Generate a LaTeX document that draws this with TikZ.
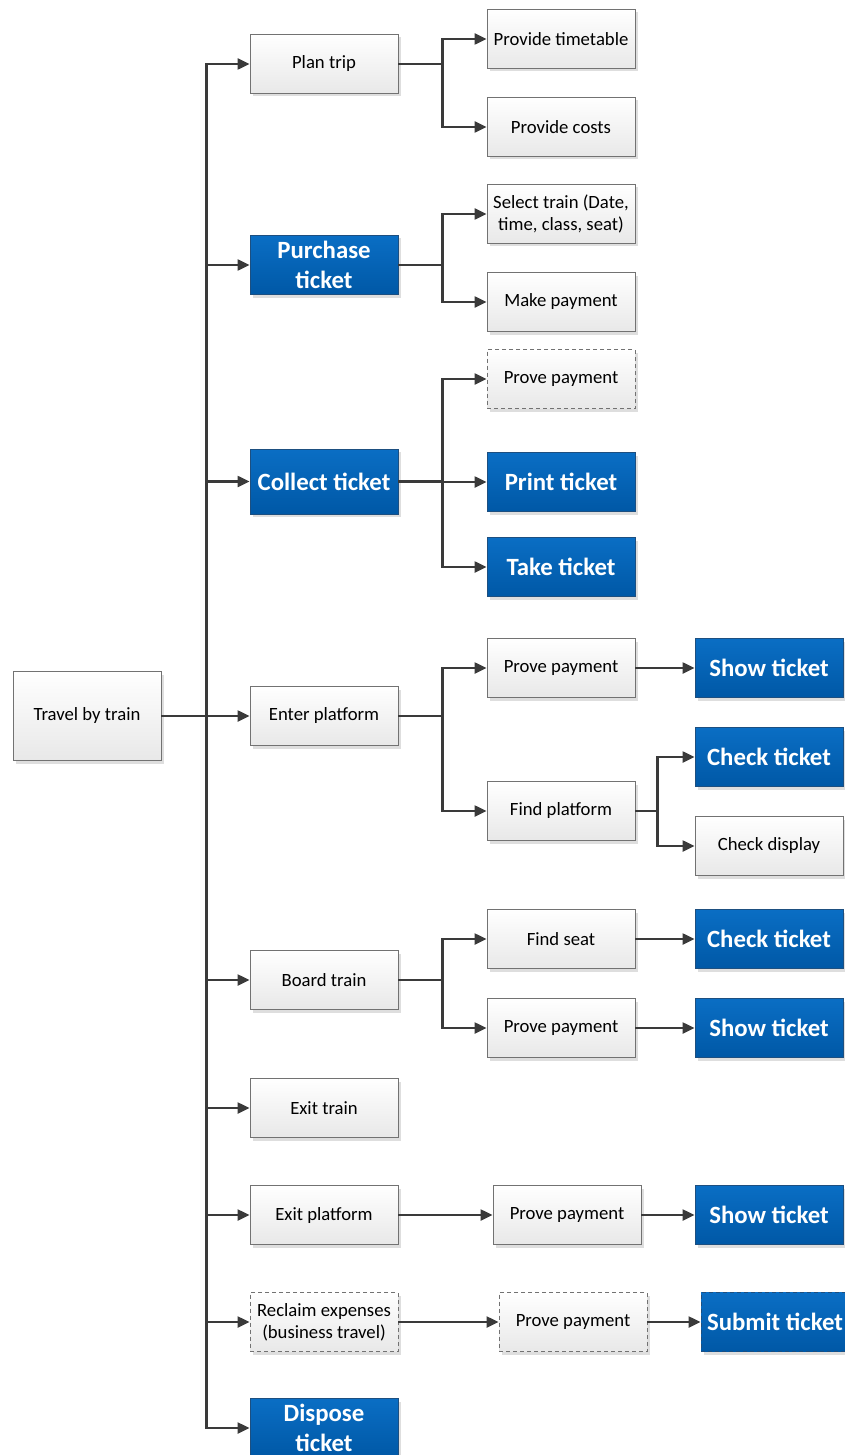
\documentclass[tikz,border=0pt]{standalone}
\usepackage{fontspec}
\setmainfont{Carlito}
\usetikzlibrary{arrows.meta,shadows}

\definecolor{linec}{HTML}{3A3A3A}
\definecolor{edgegray}{HTML}{727272}
\definecolor{boxbot}{HTML}{E8E8E8}
\definecolor{bluetop}{HTML}{0A6EC4}
\definecolor{bluebot}{HTML}{0058A6}
\definecolor{blueedge}{HTML}{1D4F80}

\begin{document}
\begin{tikzpicture}[x=1pt,y=-1pt,
  base/.style={minimum width=148pt, minimum height=59pt, inner sep=2pt,
    align=center, line width=0.9pt,
    drop shadow={shadow xshift=3pt, shadow yshift=-3pt, fill=black!13, opacity=1}},
  plain/.style={base, draw=edgegray, top color=white, bottom color=boxbot,
    text=black, font=\fontsize{18.7}{22}\selectfont},
  bluebox/.style={base, draw=blueedge, top color=bluetop, bottom color=bluebot,
    text=white, font=\bfseries\fontsize{24.8}{30}\selectfont},
  dashedbox/.style={dash pattern=on 4pt off 3pt},
  link/.style={draw=linec, line width=2.3pt, -{Triangle[length=12pt,width=11pt]}}
]
\useasboundingbox (0,0) rectangle (845,1455);

% root
\node[plain, minimum height=89pt] (travel) at (87,716) {Travel by train};

% first level
\node[plain]  (plan)     at (324,64)   {Plan trip};
\node[bluebox] (purchase) at (324,265)  {Purchase\\ticket};
\node[bluebox, minimum height=65pt] (collect) at (324,481.5) {Collect ticket};
\node[plain]  (enter)    at (324,716)  {Enter platform};
\node[plain]  (board)    at (324,980)  {Board train};
\node[plain]  (exittr)   at (324,1108) {Exit train};
\node[plain]  (exitpl)   at (324,1215) {Exit platform};
\node[plain, dashedbox] (reclaim) at (324,1322) {Reclaim expenses\\(business travel)};
\node[bluebox] (dispose)  at (324,1428) {Dispose\\ticket};

% second level
\node[plain]  (timetable) at (561,39)   {Provide timetable};
\node[plain]  (costs)     at (561,127)  {Provide costs};
\node[plain]  (select)    at (561,214)  {Select train (Date,\\time, class, seat)};
\node[plain]  (pay)       at (561,302)  {Make payment};
\node[plain, dashedbox] (proveA) at (561,379) {Prove payment};
\node[bluebox] (print)    at (561,482)  {Print ticket};
\node[bluebox] (take)     at (561,567)  {Take ticket};
\node[plain]  (proveB)    at (561,668)  {Prove payment};
\node[plain]  (findpl)    at (561,811)  {Find platform};
\node[plain]  (seat)      at (561,939)  {Find seat};
\node[plain]  (proveC)    at (561,1028) {Prove payment};
\node[plain]  (proveD)    at (567,1215) {Prove payment};
\node[plain, dashedbox] (proveE) at (573,1322) {Prove payment};

% third level
\node[bluebox] (showA)    at (769,668)  {Show ticket};
\node[bluebox] (checkA)   at (769,757)  {Check ticket};
\node[plain]   (display)  at (769,846)  {Check display};
\node[bluebox] (checkB)   at (769,939)  {Check ticket};
\node[bluebox] (showB)    at (769,1028) {Show ticket};
\node[bluebox] (showC)    at (769,1215) {Show ticket};
\node[bluebox, dashedbox] (submit) at (775,1322) {Submit ticket};

% trunk from the root
\foreach \c in {plan,purchase,collect,enter,board,exittr,exitpl,reclaim,dispose}
  \draw[link] (travel.east) -- ++(45,0) |- (\c.west);

% branches of the first level
\foreach \p/\c in {plan/timetable,plan/costs,purchase/select,purchase/pay,
                   collect/proveA,collect/print,collect/take,
                   enter/proveB,enter/findpl,board/seat,board/proveC}
  \draw[link] (\p.east) -- ++(44,0) |- (\c.west);

\foreach \p/\c in {findpl/checkA,findpl/display}
  \draw[link] (\p.east) -- ++(22,0) |- (\c.west);

% straight links
\draw[link] (proveB.east) -- (showA.west);
\draw[link] (seat.east) -- (checkB.west);
\draw[link] (proveC.east) -- (showB.west);
\draw[link] (exitpl.east) -- (proveD.west);
\draw[link] (proveD.east) -- (showC.west);
\draw[link] (reclaim.east) -- (proveE.west);
\draw[link] (proveE.east) -- (submit.west);
\end{tikzpicture}
\end{document}
